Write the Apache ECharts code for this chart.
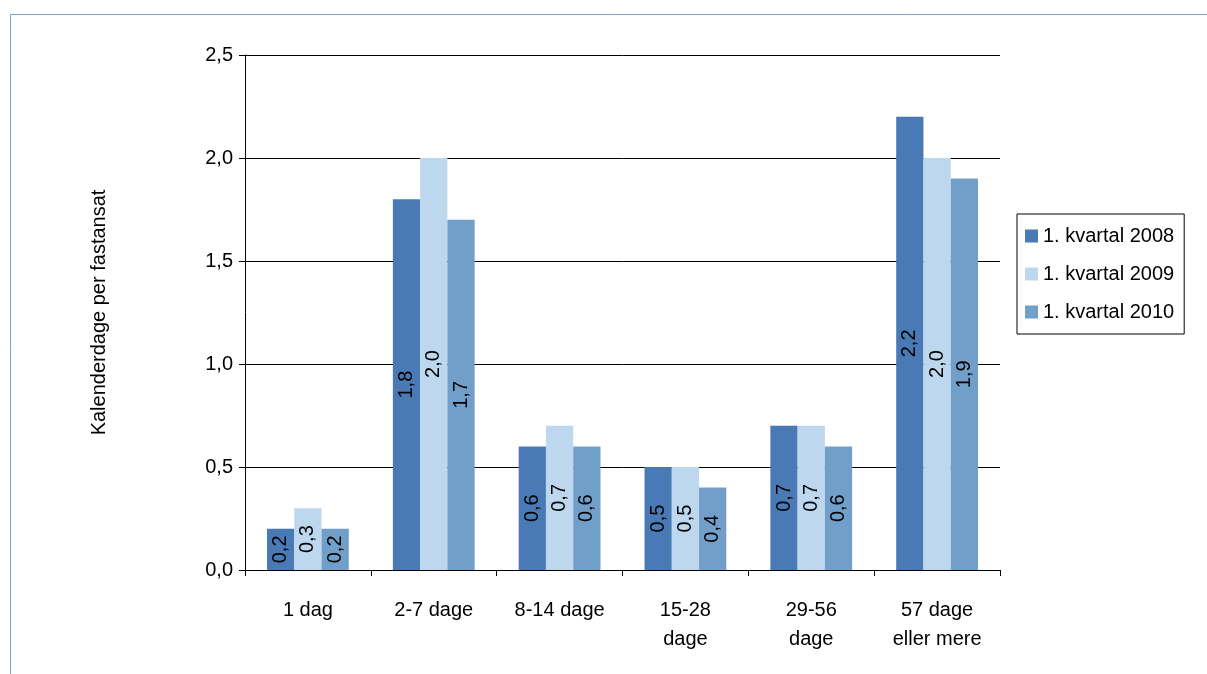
<!DOCTYPE html>
<html><head><meta charset="utf-8">
<script src="https://cdn.jsdelivr.net/npm/echarts@6/dist/echarts.min.js"></script>
<style>html,body{margin:0;padding:0;background:#fff}#c{width:1207px;height:674px}</style>
</head><body><div id="c"></div>
<script>
var categories = ['1 dag', '2-7 dage', '8-14 dage', '15-28\ndage', '29-56\ndage', '57 dage\neller mere'];
var seriesNames = ['1. kvartal 2008', '1. kvartal 2009', '1. kvartal 2010'];
var q2008 = [0.2, 1.8, 0.6, 0.5, 0.7, 2.2];
var q2009 = [0.3, 2.0, 0.7, 0.5, 0.7, 2.0];
var q2010 = [0.2, 1.7, 0.6, 0.4, 0.6, 1.9];
var colors = ['#4A7AB5', '#BDD7EE', '#729FCA'];

var chart = echarts.init(document.getElementById('c'));
function fmt(v){ return v.toFixed(1).replace('.', ','); }
var font = 'Liberation Sans';
var data = [q2008, q2009, q2010];
var series = [];
for (var i = 0; i < 3; i++) {
    series.push({
        name: seriesNames[i],
        type: 'bar',
        data: data[i],
        barGap: '0%',
        barCategoryGap: '35%',
        itemStyle: {color: colors[i]},
        label: {
            show: true, position: 'inside', rotate: 90,
            color: '#000', fontFamily: font, fontSize: 20,
            formatter: function(p){ return fmt(p.value); }
        }
    });
}
chart.setOption({
    animation: false,
    graphic: [{type: 'rect', shape: {x: 10.5, y: 14.5, width: 1220, height: 700},
        style: {fill: 'none', stroke: '#7F9FC8', lineWidth: 1}}],
    grid: {left: 245, right: 207, top: 55, bottom: 104},
    legend: {
        orient: 'vertical', left: 1017, top: 214,
        data: seriesNames, icon: 'rect', itemWidth: 13, itemHeight: 13, itemGap: 18,
        borderColor: '#000', borderWidth: 1, padding: [12, 10, 12, 8],
        textStyle: {fontFamily: font, fontSize: 20, color: '#000'}
    },
    xAxis: {
        type: 'category', data: categories,
        axisLine: {lineStyle: {color: '#000'}},
        axisTick: {show: true, length: 6, lineStyle: {color: '#000'}},
        axisLabel: {fontFamily: font, fontSize: 20, color: '#000', margin: 26, lineHeight: 29, interval: 0}
    },
    yAxis: {
        type: 'value', min: 0, max: 2.5, interval: 0.5,
        name: 'Kalenderdage per fastansat', nameLocation: 'middle', nameGap: 136,
        nameTextStyle: {fontFamily: font, fontSize: 20, color: '#000'},
        axisLine: {show: true, lineStyle: {color: '#000'}},
        axisTick: {show: true, length: 6, lineStyle: {color: '#000'}},
        splitLine: {lineStyle: {color: '#000'}},
        axisLabel: {fontFamily: font, fontSize: 20, color: '#000', margin: 12, formatter: fmt}
    },
    series: series
});
</script></body></html>
